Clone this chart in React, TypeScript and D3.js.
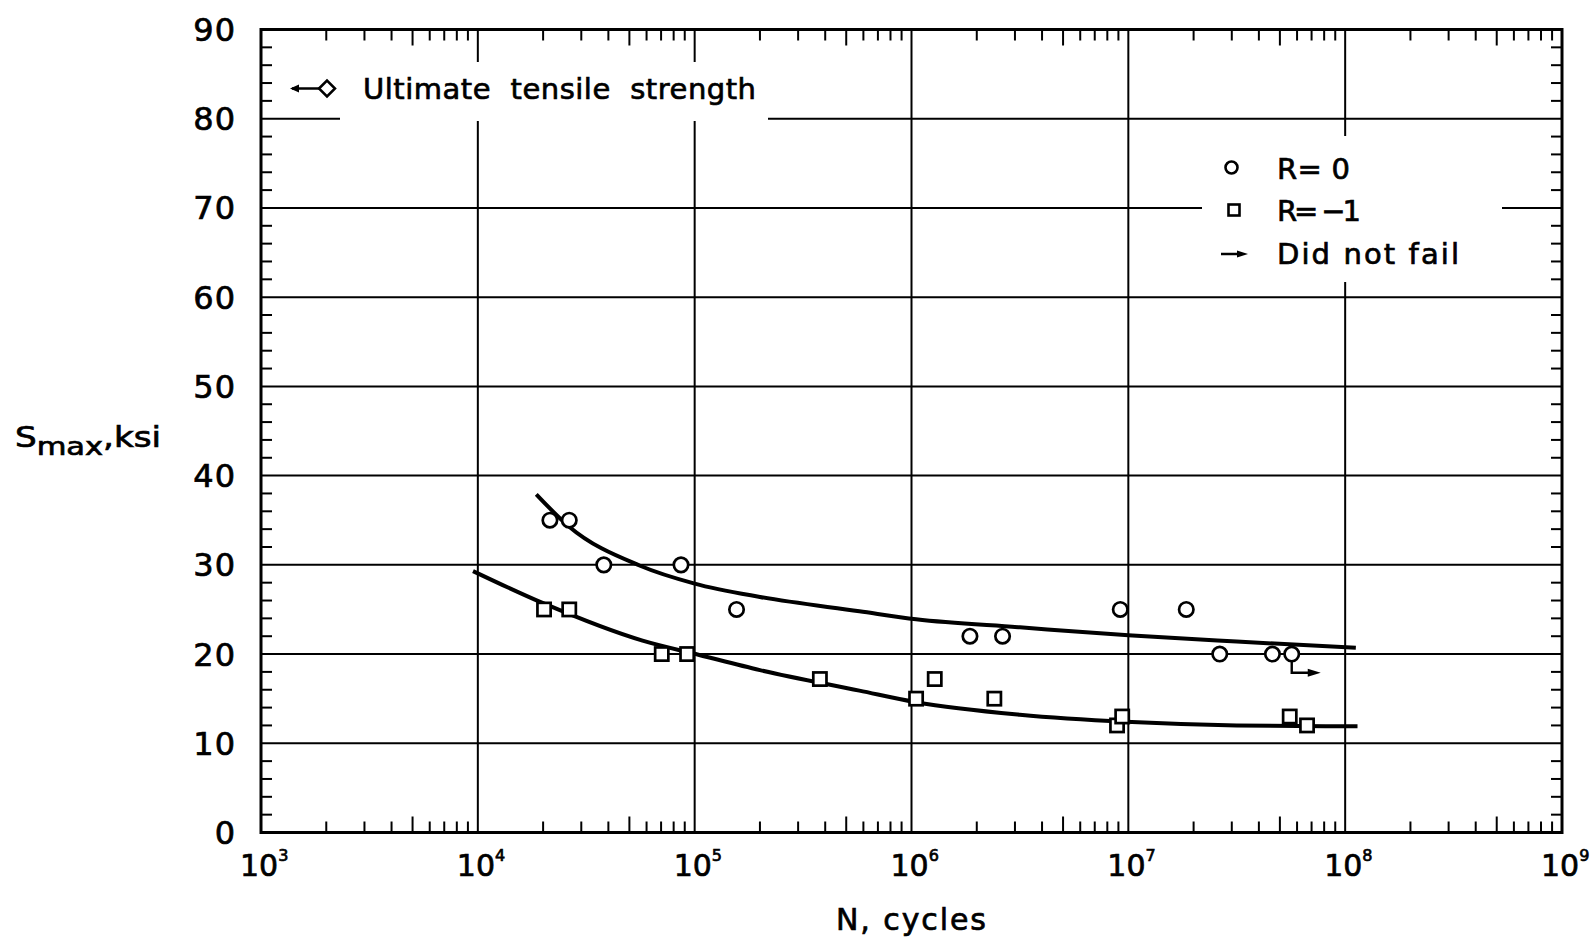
import React from "react";
import * as d3 from "d3";

// ---- data ----
const xTickExps = [3, 4, 5, 6, 7, 8, 9];
const yTicks = [0, 10, 20, 30, 40, 50, 60, 70, 80, 90];

// R = 0 test points
const r0N = [2.15e4, 2.64e4, 3.81e4, 8.65e4, 1.56e5, 1.86e6, 2.63e6, 9.18e6, 1.85e7, 2.64e7, 4.62e7, 5.67e7];
const r0S = [35, 35, 30, 30, 25, 22, 22, 25, 25, 20, 20, 20];
const r0DidNotFail = [false, false, false, false, false, false, false, false, false, false, false, true];

// R = -1 test points
const rm1N = [2.02e4, 2.64e4, 7.05e4, 9.23e4, 3.78e5, 1.05e6, 1.28e6, 2.41e6, 8.87e6, 9.37e6, 5.55e7, 6.67e7];
const rm1S = [25, 25, 20, 20, 17.2, 15, 17.2, 15, 12, 13, 13, 12];

// faired curves
const fitR0N = [1.86e4, 2.63e4, 5.6e4, 1.0e5, 2.0e5, 5.75e5, 1.05e6, 3.16e6, 1.0e7, 3.16e7, 1.12e8];
const fitR0S = [37.9, 34.3, 29.9, 27.9, 26.4, 24.8, 23.9, 23.0, 22.1, 21.4, 20.7];
const fitRm1N = [9.5e3, 2.0e4, 5.75e4, 1.05e5, 2.0e5, 5.75e5, 1.05e6, 3.16e6, 9.75e6, 3.16e7, 1.14e8];
const fitRm1S = [29.3, 25.7, 21.5, 19.9, 18.2, 15.9, 14.6, 13.2, 12.4, 12.0, 11.9];

const legendLabels = ["R= 0", "R= \u22121", "Did not fail"];
const utsLabel = "Ultimate  tensile  strength";

const FONT = "'DejaVu Sans', 'Liberation Sans', sans-serif";

export default function App() {
  const W = 1592, H = 942;
  const x = d3.scaleLog().domain([1e3, 1e9]).range([261, 1562]);
  const y = d3.scaleLinear().domain([0, 90]).range([832.5, 29.5]);
  const [x0, x1] = x.range();
  const [yb, yt] = y.range();

  const line = d3
    .line<[number, number]>()
    .x((d) => x(d[0]))
    .y((d) => y(d[1]))
    .curve(d3.curveMonotoneX);

  const fitR0 = fitR0N.map((n, i) => [n, fitR0S[i]] as [number, number]);
  const fitRm1 = fitRm1N.map((n, i) => [n, fitRm1S[i]] as [number, number]);

  const minor: { v: number; long: boolean }[] = [];
  for (let e = 3; e < 9; e++) {
    for (let m = 2; m <= 9; m++) minor.push({ v: m * Math.pow(10, e), long: m === 5 });
  }
  const yMinor: number[] = [];
  for (let v = 2; v < 90; v += 2) if (v % 10 !== 0) yMinor.push(v);

  const stroke = "#000";
  const txt = { fill: "#000", stroke: "#000", strokeWidth: 0.7 } as const;

  return (
    <svg
      width={W}
      height={H}
      style={{ position: "absolute", left: 0, top: 0, background: "#fff" }}
      fontFamily={FONT}
    >
      <rect x={0} y={0} width={W} height={H} fill="#fff" />
      {/* grid */}
      {xTickExps.slice(1, -1).map((e) => (
        <line key={"gx" + e} x1={x(Math.pow(10, e))} x2={x(Math.pow(10, e))} y1={yt} y2={yb} stroke={stroke} strokeWidth={2} />
      ))}
      {yTicks.slice(1, -1).map((v) => (
        <line key={"gy" + v} x1={x0} x2={x1} y1={y(v)} y2={y(v)} stroke={stroke} strokeWidth={2} />
      ))}
      {/* minor ticks */}
      {minor.map((t, i) => (
        <g key={"mt" + i}>
          <line x1={x(t.v)} x2={x(t.v)} y1={yb} y2={yb - (t.long ? 16 : 11)} stroke={stroke} strokeWidth={2} />
          <line x1={x(t.v)} x2={x(t.v)} y1={yt} y2={yt + (t.long ? 16 : 11)} stroke={stroke} strokeWidth={2} />
        </g>
      ))}
      {yMinor.map((v) => (
        <g key={"ym" + v}>
          <line x1={x0} x2={x0 + 11} y1={y(v)} y2={y(v)} stroke={stroke} strokeWidth={2} />
          <line x1={x1} x2={x1 - 11} y1={y(v)} y2={y(v)} stroke={stroke} strokeWidth={2} />
        </g>
      ))}

      {/* legend background boxes (break grid lines) */}
      <rect x={340} y={62} width={428} height={59} fill="#fff" />
      <rect x={1202} y={136} width={300} height={146} fill="#fff" />

      {/* frame */}
      <rect x={x0} y={yt} width={x1 - x0} height={yb - yt} fill="none" stroke={stroke} strokeWidth={3} />

      {/* y tick labels */}
      {yTicks.map((v) => (
        <text key={"yl" + v} x={236} y={y(v) + 11.5} fontSize={32} textAnchor="end" letterSpacing={1} {...txt}>
          {v}
        </text>
      ))}
      {/* x tick labels */}
      {xTickExps.map((e) => (
        <text key={"xl" + e} x={x(Math.pow(10, e)) - 21} y={876} fontSize={30} {...txt}>
          10
          <tspan fontSize={16} dy={-15}>{e}</tspan>
        </text>
      ))}
      {/* axis titles */}
      <text x={911} y={930} fontSize={30} textAnchor="middle" textLength={150} lengthAdjust="spacing" {...txt}>
        N, cycles
      </text>
      <text x={15} y={447} fontSize={28} textLength={146} lengthAdjust="spacingAndGlyphs" {...txt}>
        S<tspan fontSize={25} dy={8}>max</tspan>
        <tspan dy={-8} fontSize={28}>,ksi</tspan>
      </text>

      {/* fitted curves */}
      <path d={line(fitR0) || ""} fill="none" stroke={stroke} strokeWidth={4} />
      <path d={line(fitRm1) || ""} fill="none" stroke={stroke} strokeWidth={4} />

      {/* R = 0 circles */}
      {r0N.map((n, i) => {
        const cx = x(n), cy = y(r0S[i]);
        const ay = y(r0S[i] - 2.1);
        return (
          <g key={"c" + i}>
            <circle cx={cx} cy={cy} r={7.2} fill="#fff" stroke={stroke} strokeWidth={2.7} />
            {r0DidNotFail[i] && (
              <g>
                <path d={`M${cx},${cy + 8} V${ay} H${cx + 18}`} fill="none" stroke={stroke} strokeWidth={2.4} />
                <path d={`M${cx + 16},${ay - 4} L${cx + 29},${ay} L${cx + 16},${ay + 4} Z`} fill={stroke} />
              </g>
            )}
          </g>
        );
      })}
      {/* R = -1 squares */}
      {rm1N.map((n, i) => (
        <rect key={"s" + i} x={x(n) - 6.6} y={y(rm1S[i]) - 6.6} width={13.2} height={13.2} fill="#fff" stroke={stroke} strokeWidth={2.7} />
      ))}

      {/* Ultimate tensile strength legend */}
      <g>
        <line x1={292} x2={319} y1={88.5} y2={88.5} stroke={stroke} strokeWidth={2.5} />
        <path d="M290,88.5 L299,84.5 L299,92.5 Z" fill={stroke} />
        <path d="M319,88.5 L327,80.5 L335,88.5 L327,96.5 Z" fill="#fff" stroke={stroke} strokeWidth={2.5} />
        <text x={363} y={99} fontSize={29} textLength={393} lengthAdjust="spacing" style={{ whiteSpace: "pre" }} {...txt}>
          {utsLabel}
        </text>
      </g>

      {/* right legend */}
      <g>
        <circle cx={1231.5} cy={167.5} r={6} fill="#fff" stroke={stroke} strokeWidth={2.6} />
        <text x={1277} y={179} fontSize={29} textLength={73} lengthAdjust="spacing" {...txt}>{legendLabels[0]}</text>
        <rect x={1228.5} y={204.5} width={11} height={11} fill="#fff" stroke={stroke} strokeWidth={2.6} />
        <text x={1277} y={221} fontSize={29} textLength={84} lengthAdjust="spacing" {...txt}>{legendLabels[1]}</text>
        <line x1={1221} x2={1240} y1={254} y2={254} stroke={stroke} strokeWidth={2.5} />
        <path d="M1237,250.5 L1248,254 L1237,257.5 Z" fill={stroke} />
        <text x={1277} y={264} fontSize={29} textLength={182} lengthAdjust="spacing" {...txt}>{legendLabels[2]}</text>
      </g>
    </svg>
  );
}
